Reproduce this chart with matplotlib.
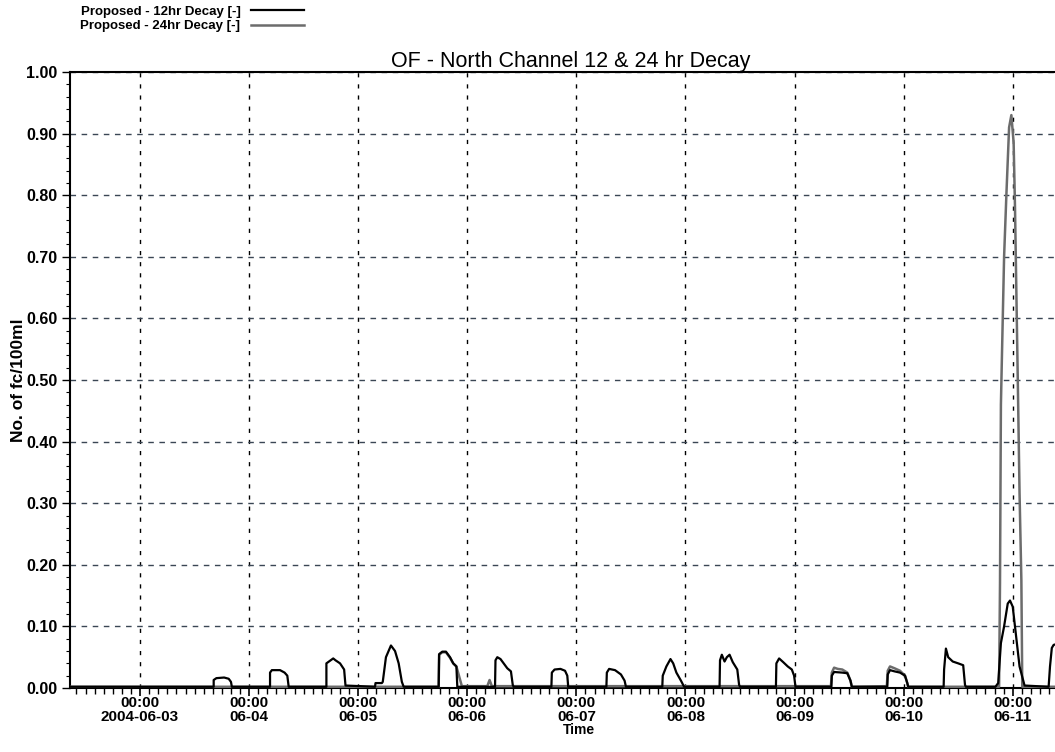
import numpy as np
import matplotlib
matplotlib.use("Agg")
import matplotlib.pyplot as plt
from matplotlib.ticker import FixedLocator, MultipleLocator, FormatStrFormatter

# hours since 2004-06-03 00:00 and concentration (No. of fc/100ml)
hours_12 = [-16, 16.2, 16.2, 16.8, 18.5, 19.5, 20.0, 20.2,
            28.6, 28.6, 29.0, 30.8, 31.8, 32.4, 32.7,
            41.0, 41.0, 42.5, 43.0, 44.0, 44.9, 45.2,
            51.7, 51.8, 53.2, 53.4, 54.1, 55.2, 56.1, 56.9, 57.6, 58.0,
            65.7, 65.8, 66.5, 67.3, 68.2, 68.9, 69.6, 69.8,
            78.1, 78.2, 78.6, 79.3, 80.0, 80.8, 81.6, 82.0, 82.2,
            90.5, 90.6, 91.2, 92.5, 93.5, 94.0, 94.2,
            102.6, 102.7, 103.2, 104.5, 105.8, 106.6, 106.9,
            114.9, 115.0, 115.8, 116.7, 117.3, 118.0, 119.0, 119.5, 119.7,
            127.5, 127.6, 128.0, 128.6, 129.1, 129.7, 130.4, 131.4, 131.8, 132.0,
            139.9, 140.0, 140.6, 141.5, 142.5, 143.4, 143.9, 144.2,
            152.1, 152.2, 152.7, 154.5, 155.6, 156.3, 156.6,
            164.4, 164.5, 165.0, 166.0, 167.2, 168.3, 168.8, 169.0,
            176.8, 176.9, 177.3, 177.8, 178.8, 180.0, 181.1, 181.5, 181.7,
            188.2, 188.8, 189.4, 190.1, 190.9, 191.4, 192.0, 192.75, 193.5, 194.6,
            199.9, 200.2, 200.6, 201.0, 202.0]
values_12 = [0.002, 0.002, 0.013, 0.016, 0.017, 0.015, 0.01, 0.002,
             0.002, 0.025, 0.029, 0.029, 0.025, 0.02, 0.002,
             0.002, 0.04, 0.048, 0.045, 0.04, 0.03, 0.004,
             0.002, 0.008, 0.008, 0.01, 0.05, 0.069, 0.06, 0.04, 0.01, 0.002,
             0.002, 0.055, 0.059, 0.059, 0.05, 0.04, 0.035, 0.002,
             0.002, 0.045, 0.05, 0.047, 0.04, 0.032, 0.027, 0.005, 0.002,
             0.002, 0.025, 0.03, 0.031, 0.028, 0.02, 0.002,
             0.002, 0.025, 0.031, 0.029, 0.022, 0.012, 0.002,
             0.002, 0.02, 0.035, 0.047, 0.04, 0.025, 0.012, 0.005, 0.002,
             0.002, 0.045, 0.054, 0.043, 0.05, 0.054, 0.042, 0.03, 0.005, 0.002,
             0.002, 0.04, 0.048, 0.042, 0.035, 0.03, 0.02, 0.002,
             0.002, 0.02, 0.026, 0.025, 0.024, 0.012, 0.002,
             0.002, 0.022, 0.029, 0.027, 0.025, 0.02, 0.008, 0.002,
             0.002, 0.03, 0.064, 0.05, 0.043, 0.04, 0.037, 0.005, 0.002,
             0.002, 0.008, 0.073, 0.10, 0.137, 0.142, 0.132, 0.083, 0.035, 0.004,
             0.002, 0.035, 0.065, 0.07, 0.072]

hours_24 = [-16, 65.7, 65.8, 66.5, 67.3, 68.2, 68.9, 69.6, 70.8,
            76.4, 76.9, 77.4,
            152.0, 152.2, 152.7, 153.5, 154.5, 155.6, 156.3, 156.6,
            164.3, 164.5, 165.0, 166.0, 167.2, 168.3, 168.8, 169.0,
            189.0, 189.2, 189.4, 189.6, 190.1, 190.6, 191.2, 191.7, 192.2,
            192.5, 193.1, 193.5, 193.9, 194.1, 202.0]
values_24 = [0.002, 0.002, 0.054, 0.058, 0.058, 0.049, 0.04, 0.035, 0.003,
             0.003, 0.013, 0.003,
             0.003, 0.025, 0.033, 0.031, 0.03, 0.025, 0.012, 0.002,
             0.003, 0.028, 0.035, 0.032, 0.028, 0.02, 0.008, 0.002,
             0.002, 0.17, 0.46, 0.53, 0.70, 0.80, 0.91, 0.93, 0.885,
             0.78, 0.505, 0.316, 0.175, 0.002, 0.002]

day_ticks = [0, 24, 48, 72, 96, 120, 144, 168, 192]
day_labels = ["00:00\n2004-06-03", "00:00\n06-04", "00:00\n06-05", "00:00\n06-06",
              "00:00\n06-07", "00:00\n06-08", "00:00\n06-09", "00:00\n06-10",
              "00:00\n06-11"]

bold_font = ["Liberation Sans", "DejaVu Sans"]

fig = plt.figure(figsize=(10.55, 7.52), dpi=100)
ax = fig.add_axes([0.0664, 0.0851, 0.9336, 0.8192])

ax.plot(hours_24, values_24, color="#6c6c6c", lw=1.8, label="Proposed - 24hr Decay [-]", zorder=3)
ax.plot(hours_12, values_12, color="black", lw=1.6, label="Proposed - 12hr Decay [-]", zorder=4)

ax.set_xlim(-15.4, 201.3)
ax.set_ylim(0, 1.0)

ax.xaxis.set_major_locator(FixedLocator(day_ticks))
ax.set_xticklabels(day_labels)
ax.xaxis.set_minor_locator(MultipleLocator(2))
ax.yaxis.set_major_locator(MultipleLocator(0.1))
ax.yaxis.set_minor_locator(MultipleLocator(0.02))
ax.yaxis.set_major_formatter(FormatStrFormatter("%.2f"))

ax.tick_params(axis="x", which="major", length=6, width=1.2, pad=0)
ax.tick_params(axis="x", which="minor", length=4, width=1.0)
ax.tick_params(axis="y", which="major", length=6, width=1.0, pad=3)
ax.tick_params(axis="y", which="minor", length=3, width=0.8)
for lab in ax.get_xticklabels():
    lab.set_family(bold_font)
    lab.set_fontweight("bold")
    lab.set_fontsize(11)
    lab.set_linespacing(1.0)
for lab in ax.get_yticklabels():
    lab.set_family(bold_font)
    lab.set_fontweight("bold")
    lab.set_fontsize(11.5)

ax.grid(True, axis="x", which="major", color="black", linestyle=(0, (3, 5)), lw=1.0)
ax.grid(True, axis="y", which="major", color="#3a4654", linestyle=(0, (4, 4)), lw=1.0)

for side in ["left", "bottom", "top"]:
    ax.spines[side].set_linewidth(1.5)
ax.spines["right"].set_visible(False)

ax.set_title("OF - North Channel 12 & 24 hr Decay", fontsize=15.5, family=bold_font,
             pad=3, x=0.508)
ax.set_xlabel("Time", fontsize=10, fontweight="bold", family=bold_font)
ax.xaxis.set_label_coords(0.5165, -0.057)
ax.set_ylabel("No. of fc/100ml", fontsize=12.5, fontweight="bold", family=bold_font, labelpad=0)

handles, labels = ax.get_legend_handles_labels()
fig.legend(handles[::-1], labels[::-1], loc="upper left", bbox_to_anchor=(0.065, 1.008),
           frameon=False, markerfirst=False, handlelength=4.0, labelspacing=0.15,
           prop={"family": bold_font, "weight": "bold", "size": 9.5})

fig.savefig("out.png", dpi=100)
